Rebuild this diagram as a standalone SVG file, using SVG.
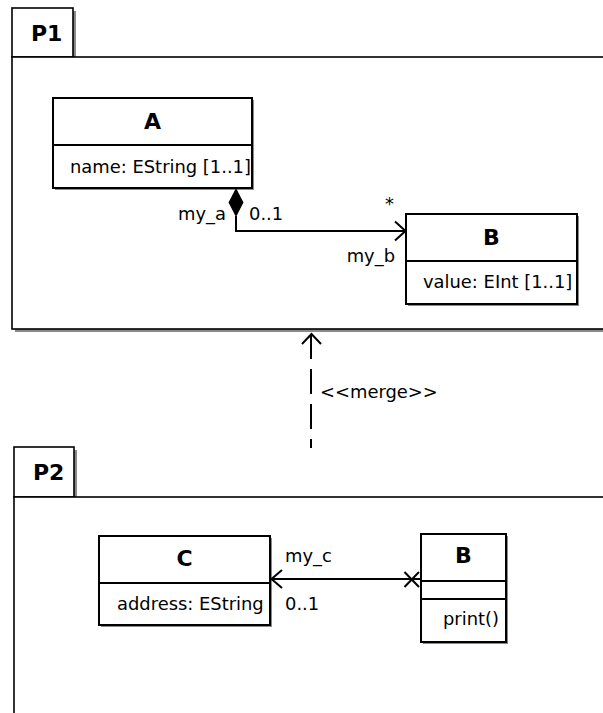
<svg xmlns="http://www.w3.org/2000/svg" width="603" height="713" viewBox="0 0 603 713">
<style>
.shadow{fill:#8a8a8a;stroke:none}
.box{fill:#ffffff;stroke:#000;stroke-width:2}
.pkg{fill:#ffffff;stroke:#000;stroke-width:1.6}
.ln{stroke:#000;stroke-width:2;fill:none}
.t{font-family:"DejaVu Sans",sans-serif;font-size:17.9px;fill:#000}
.b{font-family:"DejaVu Sans",sans-serif;font-size:22px;font-weight:bold;fill:#000}
</style>
<rect width="603" height="713" fill="#fff"/>
<g id="P1">
<rect class="shadow" x="15" y="11" width="61" height="49"/>
<rect class="pkg" x="12" y="8" width="61" height="49"/>
<rect class="shadow" x="15" y="60" width="620" height="272"/>
<rect class="pkg" x="12" y="57" width="620" height="272"/>
<text class="b" x="31" y="41">P1</text>
</g>
<g id="P2">
<rect class="shadow" x="17" y="450" width="60" height="50"/>
<rect class="pkg" x="14" y="447" width="60" height="50"/>
<rect class="shadow" x="17" y="500" width="620" height="300"/>
<rect class="pkg" x="14" y="497" width="620" height="300"/>
<text class="b" x="33" y="480">P2</text>
</g>
<g id="A">
<rect class="shadow" x="55" y="100" width="199" height="90"/>
<rect class="box" x="53" y="98" width="199" height="90"/>
<line class="ln" x1="53" y1="145" x2="252" y2="145"/>
<text class="b" x="152.5" y="129" text-anchor="middle">A</text>
<text class="t" x="70" y="173">name: EString [1..1]</text>
</g>
<g id="B1">
<rect class="shadow" x="408" y="216" width="171" height="90"/>
<rect class="box" x="406" y="214" width="171" height="90"/>
<line class="ln" x1="406" y1="261" x2="577" y2="261"/>
<text class="b" x="491.5" y="245" text-anchor="middle">B</text>
<text class="t" x="423" y="288">value: EInt [1..1]</text>
</g>
<g id="C">
<rect class="shadow" x="101" y="538" width="171" height="89"/>
<rect class="box" x="99" y="536" width="171" height="89"/>
<line class="ln" x1="99" y1="583" x2="270" y2="583"/>
<text class="b" x="184.5" y="566" text-anchor="middle">C</text>
<text class="t" x="117" y="610">address: EString</text>
</g>
<g id="B2">
<rect class="shadow" x="423" y="536" width="85" height="108"/>
<rect class="box" x="421" y="534" width="85" height="108"/>
<line class="ln" x1="421" y1="581" x2="506" y2="581"/>
<line class="ln" x1="421" y1="599" x2="506" y2="599"/>
<text class="b" x="463.5" y="563" text-anchor="middle">B</text>
<text class="t" x="443" y="625">print()</text>
</g>
<g id="connectors">
<path class="ln" d="M236 216 V231 H405"/>
<path d="M236 188 L243.5 202.5 L236 217 L228.5 202.5 Z" fill="#000"/>
<path class="ln" d="M395 221.5 L405.5 231 L395 240.5"/>
<text class="t" x="226" y="220" text-anchor="end">my_a</text>
<text class="t" x="249" y="220">0..1</text>
<text class="t" x="385" y="210">*</text>
<text class="t" x="395" y="262" text-anchor="end">my_b</text>
<line class="ln" x1="311" y1="334" x2="311" y2="448" stroke-dasharray="25 10"/>
<path class="ln" d="M302 344 L311.5 334 L321 344"/>
<text class="t" x="320" y="398">&lt;&lt;merge&gt;&gt;</text>
<line class="ln" x1="271" y1="579" x2="421" y2="579"/>
<path class="ln" d="M282 570 L271.5 579 L282 588"/>
<path class="ln" d="M404.5 572 L419 587 M404.5 587 L419 572"/>
<text class="t" x="285" y="562">my_c</text>
<text class="t" x="285" y="610">0..1</text>
</g>
</svg>
